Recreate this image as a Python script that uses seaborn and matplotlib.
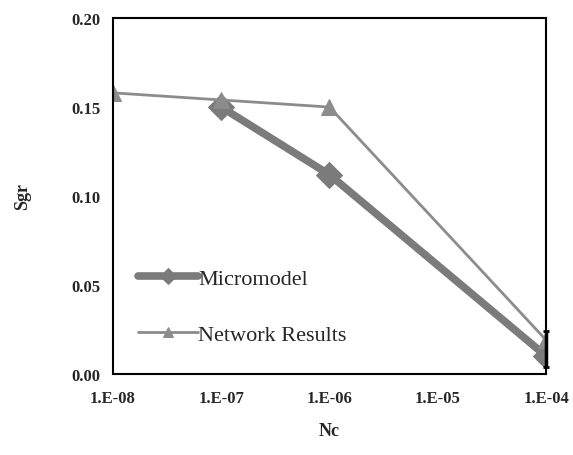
import matplotlib
matplotlib.use("Agg")
import matplotlib.pyplot as plt
import seaborn as sns
import pandas as pd

sns.set_theme(style="white")
plt.rcParams['font.family'] = ['Liberation Serif', 'DejaVu Serif']

micro_nc = [1e-7, 1e-6, 1e-4]
micro_sgr = [0.150, 0.112, 0.010]
net_nc = [1e-8, 1e-7, 1e-6, 1e-4]
net_sgr = [0.158, 0.154, 0.150, 0.019]
xticks = [1e-8, 1e-7, 1e-6, 1e-5, 1e-4]
xticklabels = ["1.E-08", "1.E-07", "1.E-06", "1.E-05", "1.E-04"]
yticks = [0.00, 0.05, 0.10, 0.15, 0.20]

df_m = pd.DataFrame({"Nc": micro_nc, "Sgr": micro_sgr})
df_n = pd.DataFrame({"Nc": net_nc, "Sgr": net_sgr})

fig = plt.figure(figsize=(5.73, 4.56), dpi=100)
ax = fig.add_axes([0.197, 0.178, 0.756, 0.78])

sns.lineplot(data=df_m, x="Nc", y="Sgr", ax=ax, color="#7b7b7b", linewidth=5.5,
             marker="D", markersize=13, markeredgecolor="#7b7b7b", label="Micromodel")
sns.lineplot(data=df_n, x="Nc", y="Sgr", ax=ax, color="#8c8c8c", linewidth=2,
             marker="^", markersize=11, markeredgecolor="#8c8c8c", label="Network Results")
ax.errorbar([net_nc[-1]], [net_sgr[-1]], yerr=[[0.015], [0.005]], fmt="none",
            ecolor="black", elinewidth=2.5, capsize=2, capthick=2, clip_on=False)

ax.set_xscale("log")
ax.set_xlim(1e-8, 1e-4)
ax.set_ylim(0, 0.20)
ax.set_xticks(xticks)
ax.set_xticklabels(xticklabels)
ax.minorticks_off()
ax.set_yticks(yticks)
ax.set_yticklabels([f"{v:.2f}" for v in yticks])
for lbl in ax.get_xticklabels() + ax.get_yticklabels():
    lbl.set_fontweight("bold")
    lbl.set_fontsize(12)
ax.tick_params(axis="x", length=0, pad=12)
ax.tick_params(axis="y", length=0, pad=9)
for s in ax.spines.values():
    s.set_color("black")
    s.set_linewidth(1.5)

ax.set_xlabel("Nc", fontsize=13, fontweight="bold")
ax.xaxis.set_label_coords(0.5, -0.135)
ax.set_ylabel("Sgr", fontsize=13, fontweight="bold")
ax.yaxis.set_label_coords(-0.19, 0.5)

leg = ax.legend(loc="lower left", bbox_to_anchor=(0.012, 0.025), frameon=False,
                fontsize=16, handlelength=2.7, labelspacing=1.6, handletextpad=0.0,
                markerscale=0.6)

fig.savefig("out.png", dpi=100)
